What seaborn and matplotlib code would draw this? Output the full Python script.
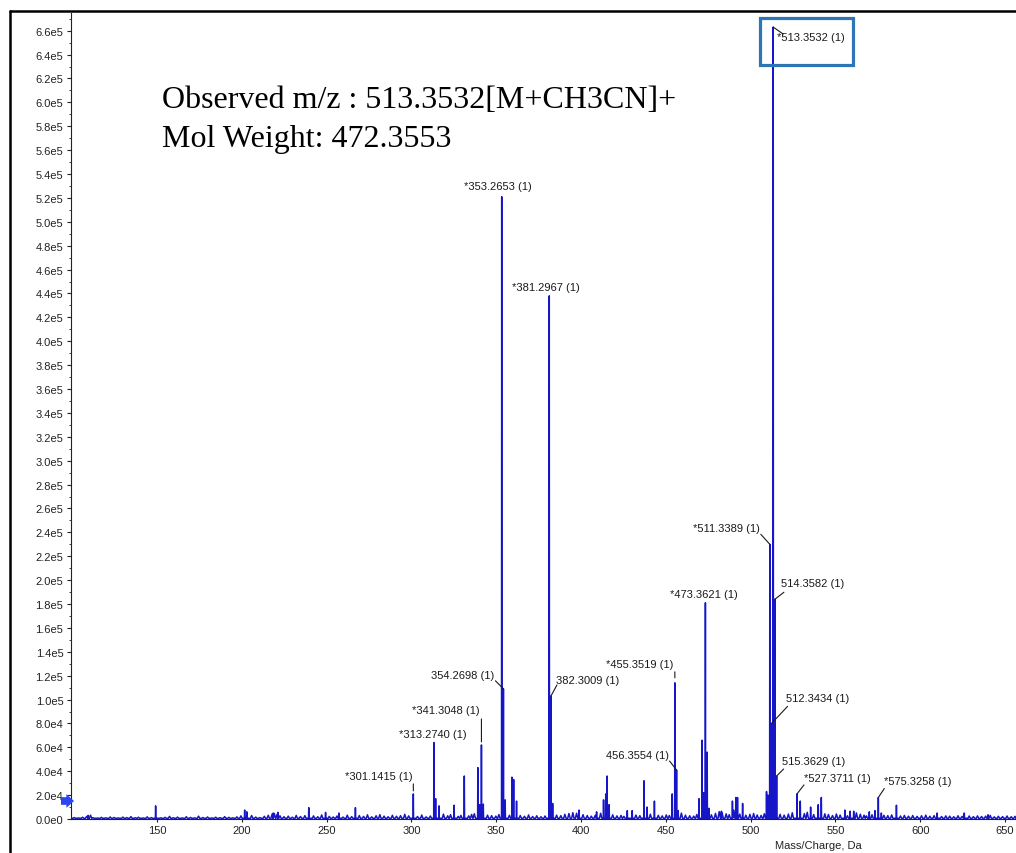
import math
import numpy as np
import pandas as pd
import matplotlib
matplotlib.use("Agg")
import matplotlib.pyplot as plt
import seaborn as sns
from matplotlib.ticker import FuncFormatter, MultipleLocator
from matplotlib.lines import Line2D
from matplotlib.patches import Rectangle

# ---------------- data ----------------
label_mz = [513.3532, 353.2653, 381.2967, 511.3389, 514.3582, 473.3621, 455.3519,
            354.2698, 382.3009, 341.3048, 313.2740, 512.3434, 456.3554, 301.1415,
            515.3629, 527.3711, 575.3258]
label_int = [663000, 521000, 438000, 230000, 184000, 181000, 114000,
             109000, 103000, 62000, 64000, 80000, 41000, 21000,
             36000, 21000, 18000]
label_star = [True, True, True, True, False, True, True,
              False, False, True, True, False, False, True,
              False, True, True]

minor_mz = [109.4, 149.2, 201.7, 203.0, 218.5, 221.3, 239.5, 249.4, 257.3, 267.0,
            314.3, 316.3, 325.2, 331.2, 339.2, 340.3, 342.4, 355.3, 359.3, 360.3,
            362.0, 383.3, 398.9, 409.2, 413.3, 414.6, 415.4, 416.6, 427.3, 430.2,
            437.2, 439.0, 443.3, 453.8, 457.3, 469.6, 471.4, 472.3, 474.4, 475.5,
            482.8, 489.3, 491.3, 492.3, 495.3, 509.4, 510.3, 529.3, 535.4, 539.9,
            541.7, 555.6, 558.7, 560.8, 570.0, 573.3, 577.1, 586.0, 610.0, 626.0,
            640.0]
minor_int_k = [3.0, 11.0, 7.5, 6.0, 5.0, 5.5, 9.5, 5.5, 5.0, 9.5,
               17.0, 11.0, 11.5, 36.0, 43.0, 12.0, 12.5, 16.0, 35.0, 33.0,
               15.0, 13.0, 7.5, 6.0, 16.0, 21.0, 36.0, 12.0, 7.0, 7.0,
               32.0, 10.0, 15.0, 21.0, 7.0, 17.0, 66.0, 22.0, 56.0, 9.0,
               6.5, 15.0, 18.0, 18.0, 13.0, 23.0, 20.0, 15.0, 10.0, 12.0,
               18.0, 7.5, 6.5, 6.5, 6.0, 7.0, 5.0, 11.5, 5.0, 5.0,
               3.5]

noise_mz = [101.2, 103.8, 106.1, 108.5, 110.8, 112.3, 114.9, 117.2, 119.8, 122.4,
            124.7, 127.1, 129.9, 132.2, 134.6, 137.3, 139.1, 141.8, 144.2, 146.7,
            152.3, 154.8, 157.4, 159.6, 162.1, 164.9, 167.3, 169.8, 172.2, 174.5,
            177.1, 179.8, 182.3, 184.6, 187.2, 189.9, 192.4, 194.7, 197.1, 199.5,
            205.8, 208.2, 210.7, 213.3, 215.6, 217.9, 219.2, 220.8, 222.5, 224.9,
            227.4, 229.8, 232.1, 234.6, 237.2, 242.3, 244.8, 247.1, 251.6, 253.9,
            256.1, 259.7, 262.2, 264.8, 269.3, 271.8, 274.1, 276.6, 279.2, 281.4,
            283.9, 286.3, 288.8, 291.2, 293.6, 296.1, 298.4, 303.6, 306.1, 308.7,
            311.2, 318.9, 321.4, 323.1, 327.6, 329.2, 333.8, 335.5, 337.1, 344.9,
            347.3, 349.8, 351.6, 357.8, 364.2, 366.7, 369.1, 371.5, 373.9, 376.4,
            378.8, 385.6, 388.1, 390.5, 392.9, 395.2, 397.4, 401.2, 403.7, 406.1,
            408.4, 411.6, 418.7, 421.2, 423.6, 425.3, 432.4, 434.7, 440.9, 445.6,
            447.9, 450.3, 452.1, 459.2, 461.6, 464.1, 466.5, 468.3, 476.9, 479.3,
            481.5, 483.2, 485.6, 487.4, 490.1, 493.6, 497.2, 499.6, 501.8, 503.9,
            506.2, 508.1, 517.4, 519.8, 522.3, 524.6, 531.7, 533.4, 537.2, 543.8,
            545.9, 548.3, 550.6, 552.8, 557.1, 562.4, 564.7, 566.9, 568.3, 571.6,
            578.6, 580.9, 583.2, 588.4, 590.7, 593.1, 595.6, 598.2, 600.8, 603.3,
            605.7, 608.2, 612.6, 615.1, 617.4, 619.8, 622.3, 624.7, 628.9, 631.4,
            633.8, 636.2, 638.6, 641.3, 643.7, 646.1, 648.6, 651.2, 653.7, 655.9]
noise_int_k = [1.2, 0.9, 1.5, 2.1, 3.2, 1.1, 0.8, 1.4, 1.0, 1.7,
               1.3, 0.9, 1.6, 1.2, 2.0, 1.1, 1.5, 0.9, 1.8, 1.2,
               1.0, 1.4, 2.2, 1.1, 1.6, 0.9, 1.9, 1.3, 1.0, 2.4,
               1.2, 1.7, 0.9, 1.5, 1.1, 2.0, 1.4, 1.0, 1.8, 2.6,
               2.9, 1.6, 1.2, 2.3, 3.1, 4.2, 4.6, 3.8, 2.7, 1.9,
               2.4, 1.5, 3.0, 2.1, 2.8, 2.6, 1.9, 3.4, 2.2, 1.7,
               2.5, 1.6, 3.2, 2.0, 2.9, 2.2, 3.5, 1.8, 2.7, 3.6,
               2.4, 1.9, 3.1, 2.3, 2.8, 3.9, 2.6, 2.1, 3.3, 1.8,
               2.5, 4.1, 2.7, 3.6, 2.2, 3.0, 2.6, 3.8, 4.4, 3.2,
               2.8, 2.4, 3.7, 3.1, 2.9, 2.3, 3.4, 2.1, 2.7, 1.9,
               2.5, 3.2, 2.8, 3.9, 4.6, 5.3, 4.8, 3.6, 2.9, 2.4,
               3.1, 4.8, 3.5, 2.6, 3.0, 2.2, 3.3, 2.8, 4.0, 3.1,
               2.6, 3.4, 2.9, 4.9, 3.2, 2.7, 2.4, 3.8, 3.5, 4.7,
               6.2, 5.1, 4.3, 3.6, 7.4, 4.1, 3.2, 3.9, 4.6, 3.4,
               3.0, 4.4, 3.9, 3.2, 4.1, 5.2, 4.5, 5.6, 3.7, 4.3,
               3.8, 2.9, 4.2, 3.3, 2.7, 5.1, 4.0, 3.2, 2.6, 3.5,
               3.1, 2.8, 3.4, 2.5, 3.0, 2.4, 2.9, 2.2, 2.7, 3.2,
               2.3, 2.8, 2.1, 2.6, 2.4, 1.9, 2.7, 2.2, 2.5, 2.0,
               2.6, 2.1, 2.4, 3.0, 1.8, 2.3, 2.0, 2.5, 1.9, 2.2]

x_ticks = [150, 200, 250, 300, 350, 400, 450, 500, 550, 600, 650]
title_lines = ["Observed m/z : 513.3532[M+CH3CN]+", "Mol Weight: 472.3553"]
x_label = "Mass/Charge, Da"

# ---------------- label placement (pixels) ----------------
label_pos = [(4, -10, 'left'), (-4, 11, 'center'), (-3, 9, 'center'), (-10, 16, 'right'),
             (6, 16, 'left'), (-2, 9, 'center'), (-1, 19, 'right'), (-9, 14, 'right'),
             (5, 16, 'left'), (-2, 35, 'right'), (-1, 9, 'center'), (14, 25, 'left'),
             (-8, 15, 'right'), (-1, 18, 'right'), (5, 15, 'left'), (7, 16, 'left'),
             (6, 17, 'left')]
leaders = [(10, -7, 0), None, None, (-9, 10, 0), (9, 7, 0), None, (0, 11, 5),
           (-8, 8, 0), (6, 11, 0), (0, 26, 3), None, (16, 17, 0), (-7, 9, 0),
           (0, 10, 3), (7, 7, 0), (7, 9, 0), (6, 9, 0)]

# ---------------- style ----------------
sns.set_theme(style="ticks")
plt.rcParams['font.family'] = ['Liberation Sans', 'DejaVu Sans']

W, H = 1016, 854
fig = plt.figure(figsize=(W / 100, H / 100), dpi=100)
fig.patch.set_facecolor('white')
ax = fig.add_axes([71 / W, 34 / H, (W - 71) / W, 806 / H])
ax.set_facecolor('white')

XMIN, XMAX = 99.3, 656.5
YMAX = 674800

# profile built from the peak lists (noise peaks drawn a bit broader)
all_mz = label_mz + minor_mz + noise_mz
all_int = label_int + [v * 1000 for v in minor_int_k] + [v * 1000 for v in noise_int_k]
all_w = [0.12] * len(label_mz) + [0.15] * len(minor_mz) + [0.7] * len(noise_mz)
order = np.argsort(all_mz)
xs, ys = [XMIN], [600.0]
for i in order:
    m, h, w = all_mz[i], all_int[i], all_w[i]
    xs += [m - w, m, m + w]
    ys += [600.0, h, 600.0]
xs.append(XMAX)
ys.append(600.0)
df = pd.DataFrame({'mz': xs, 'intensity': ys})
sns.lineplot(data=df, x='mz', y='intensity', sort=False, estimator=None,
             color='#1616c8', lw=1.1, ax=ax)

ax.set_xlim(XMIN, XMAX)
ax.set_ylim(0, YMAX)
ax.set_xticks(x_ticks)
ax.set_yticks(np.arange(0, 660001, 20000))
ax.yaxis.set_minor_locator(MultipleLocator(10000))


def sci(v, pos):
    if v == 0:
        return '0.0e0'
    e = int(math.floor(math.log10(abs(v)) + 1e-9))
    return f'{v / 10 ** e:.1f}e{e}'


ax.yaxis.set_major_formatter(FuncFormatter(sci))
ax.tick_params(axis='y', which='major', length=3, width=0.8, pad=2.5,
               labelsize=8, colors='#222222')
ax.tick_params(axis='y', which='minor', length=1.8, width=0.6, left=True, colors='#222222')
ax.tick_params(axis='x', which='major', length=2, width=0.8, pad=2.5,
               labelsize=8, colors='#222222')
sns.despine(ax=ax)
for s in ['left', 'bottom']:
    ax.spines[s].set_color('#222222')
    ax.spines[s].set_linewidth(0.8)
ax.grid(False)
ax.set_ylabel('')
ax.set_xlabel(x_label, fontsize=8, color='#222222')
ax.xaxis.set_label_coords((818 - 71) / (W - 71), -(841 - 820) / 806)

# peak labels
for mz, h, star, (dx, dy, ha), ld in zip(label_mz, label_int, label_star, label_pos, leaders):
    txt = ('*' if star else '') + f'{mz:.4f} (1)'
    ax.annotate(txt, xy=(mz, h), xytext=(dx, dy), textcoords='offset pixels',
                ha=ha, va='center', fontsize=8, color='#1a1a1a')
    if ld is not None:
        ex, ey, gap = ld
        ax.annotate('', xy=(mz, h), xytext=(ex, ey), textcoords='offset pixels',
                    arrowprops=dict(arrowstyle='-', color='#1a1a1a', lw=0.8,
                                    shrinkA=0, shrinkB=gap * 0.72))

# big annotation text
fig.text(162 / W, 1 - 101 / H, title_lines[0], family='Liberation Serif',
         fontsize=23, ha='left', va='center', color='black')
fig.text(162 / W, 1 - 140 / H, title_lines[1], family='Liberation Serif',
         fontsize=23, ha='left', va='center', color='black')

# screenshot frame
fig.add_artist(Line2D([10 / W, 10 / W], [0, 1 - 12 / H], color='black', lw=1.8,
                      transform=fig.transFigure))
fig.add_artist(Line2D([10 / W, 1], [1 - 12 / H, 1 - 12 / H], color='black', lw=1.8,
                      transform=fig.transFigure))

# highlight box
fig.add_artist(Rectangle((760 / W, 1 - 66 / H), 93 / W, 47 / H, fill=False,
                         ec='#2E75B6', lw=2.3, transform=fig.transFigure))

# blue arrow marker at the y axis
ax.annotate('', xy=(74 / W, 1 - 802 / H), xytext=(61 / W, 1 - 802 / H),
            xycoords='figure fraction', textcoords='figure fraction',
            arrowprops=dict(arrowstyle='simple,head_length=0.5,head_width=0.9,tail_width=0.5',
                            fc='#2a46f0', ec='none', mutation_scale=11,
                            shrinkA=0, shrinkB=0))

fig.savefig('out.png', dpi=100, facecolor='white')
